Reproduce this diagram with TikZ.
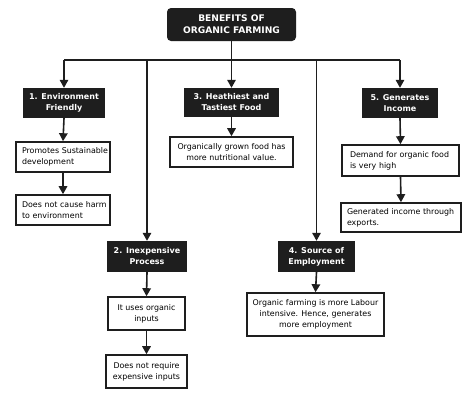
\documentclass[tikz,border=0pt]{standalone}
\usepackage{fontspec}
\setmainfont{DejaVu Sans}
\usetikzlibrary{arrows.meta}
\definecolor{ink}{HTML}{1E1E1E}
\tikzset{
  hdr/.style={rectangle, fill=ink, text=white, font=\fontsize{8.0}{11}\selectfont\bfseries, align=center, inner sep=0pt},
  ttl/.style={hdr, rounded corners=4pt, font=\fontsize{9.1}{12}\selectfont\bfseries},
  txt/.style={rectangle, draw=ink, line width=1.6pt, fill=white, font=\fontsize{7.9}{11}\selectfont, inner sep=0pt},
  lft/.style={txt, align=left},
  ctr/.style={txt, align=center},
  conn/.style={draw=ink, line width=1.6pt},
  arr/.style={conn, -{Triangle[length=8pt,width=8.5pt]}},
}
\begin{document}
\begin{tikzpicture}[x=1pt,y=-1pt]
\useasboundingbox (0,0) rectangle (474,400);
\fill[white] (0,0) rectangle (474,400);
% title
\node[ttl, minimum width=129pt, minimum height=33pt] (t) at (231.5,24.5) {BENEFITS OF\\ORGANIC FARMING};
% headers
\node[hdr, minimum width=82pt, minimum height=30pt] (b1) at (64,103) {1. Environment\\Friendly};
\node[hdr, minimum width=95pt, minimum height=29pt] (b3) at (231.5,102.5) {3. Heathiest and\\Tastiest Food};
\node[hdr, minimum width=76pt, minimum height=30pt] (b5) at (400,103) {5. Generates\\Income};
\node[hdr, minimum width=80pt, minimum height=31pt] (b2) at (147,256.5) {2. Inexpensive\\Process};
\node[hdr, minimum width=77pt, minimum height=31pt] (b4) at (316.5,256.5) {4. Source of\\Employment};
% text boxes
\node[lft, minimum width=94pt, minimum height=30pt, text width=82pt] (p1) at (63,157) {\mbox{Promotes Sustainable}\\development};
\node[lft, minimum width=94pt, minimum height=30pt, text width=82pt] (p2) at (63,210) {\mbox{Does not cause harm}\\to environment};
\node[ctr, minimum width=123pt, minimum height=30pt] (o3) at (231.5,152) {Organically grown food has\\more nutritional value.};
\node[lft, minimum width=117pt, minimum height=31pt, text width=101pt] (d5) at (400.5,160.5) {\mbox{Demand for organic food}\\is very high};
\node[lft, minimum width=120pt, minimum height=29pt, text width=108pt] (g5) at (401,217.5) {\mbox{Generated income through}\\exports.};
\node[ctr, minimum width=77pt, minimum height=33pt] (i2) at (146.5,313.5) {It uses organic\\inputs};
\node[ctr, minimum width=81pt, minimum height=33pt] (n2) at (146.5,371.5) {Does not require\\expensive inputs};
\node[ctr, minimum width=137pt, minimum height=43pt] (f4) at (315.5,314.5) {Organic farming is more Labour\\intensive. Hence, generates\\more employment};
% bus
\coordinate (bus) at (231.5,60);
\draw[conn] (t.south) -- (bus);
\draw[conn] (b1.north |- bus) -- (b5.north |- bus);
\draw[arr] (b1.north |- bus) -- (b1.north);
\draw[arr] (b2.north |- bus) -- (b2.north);
\draw[arr] (b3.north |- bus) -- (b3.north);
\draw[arr] (b4.north |- bus) -- (b4.north);
\draw[arr] (b5.north |- bus) -- (b5.north);
% columns
\draw[arr] (b1.south) -- (p1.north);
\draw[arr] (p1.south) -- (p2.north);
\draw[arr] (b3.south) -- (o3.north);
\draw[arr] (b5.south) -- (d5.north);
\draw[arr] (d5.south) -- (g5.north);
\draw[arr] (b2.south) -- (i2.north);
\draw[arr] (i2.south) -- (n2.north);
\draw[arr] (b4.south) -- (f4.north);
\end{tikzpicture}
\end{document}
